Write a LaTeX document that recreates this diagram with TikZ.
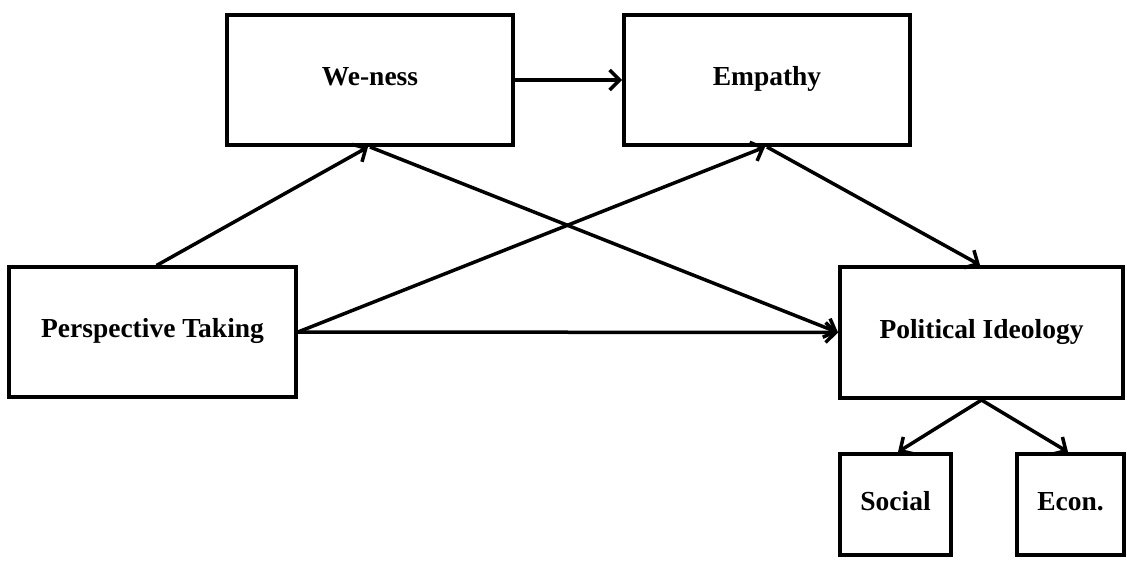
\documentclass[tikz,border=0pt]{standalone}
\usepackage{fontspec}
\setmainfont{Liberation Serif}
\usetikzlibrary{arrows.meta}
\begin{document}
\begin{tikzpicture}[x=1pt,y=-1pt,
  box/.style={draw=black, line width=4pt, fill=white, inner sep=0pt,
    text height=18.5pt, text depth=7pt,
    font=\fontsize{27.5}{31}\selectfont\bfseries},
  arr/.style={line width=3.5pt, -{Straight Barb[length=10pt,width=20pt,line width=3.5pt]}}]
\useasboundingbox (0,0) rectangle (1127,561);
\node[box, minimum width=286pt, minimum height=130pt] (we) at (370,80) {We-ness};
\node[box, minimum width=286pt, minimum height=130pt] (emp) at (767,80) {Empathy};
\node[box, minimum width=287pt, minimum height=129pt] (pt) at (152.5,332) {Perspective Taking};
\node[box, minimum width=283pt, minimum height=131pt] (pi) at (981.5,332.5) {Political Ideology};
\node[box, minimum width=111pt, minimum height=101pt] (soc) at (895.5,504.5) {Social};
\node[box, minimum width=107pt, minimum height=101pt] (eco) at (1070.5,504.5) {Econ.};
\draw[arr] (we.east) -- (emp.west);
\draw[arr] ([xshift=4pt]pt.north) -- ([xshift=-2pt]we.south);
\draw[arr] (pt.east) -- ([xshift=-2pt]emp.south);
\draw[arr] (pt.east) -- (pi.west);
\draw[arr] (we.south) -- (pi.west);
\draw[arr] (emp.south) -- ([xshift=-1.5pt]pi.north);
\draw[arr] (pi.south) -- ([xshift=2.5pt]soc.north);
\draw[arr] (pi.south) -- ([xshift=-2.5pt]eco.north);
\end{tikzpicture}
\end{document}
